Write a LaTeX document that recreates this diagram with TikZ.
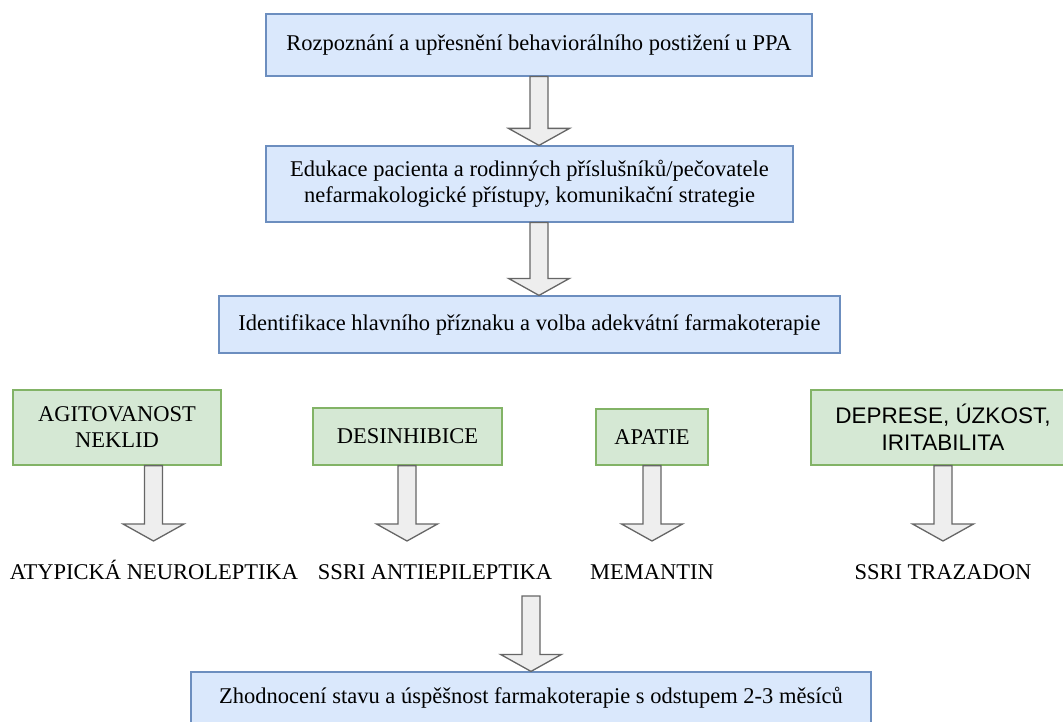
\documentclass[tikz,border=0pt]{standalone}
\usepackage{fontspec}
\setmainfont{Liberation Serif}
\newfontfamily\sansf{Liberation Sans}
\usetikzlibrary{calc}
\definecolor{bluefill}{HTML}{DAE8FC}
\definecolor{bluedraw}{HTML}{6C8EBF}
\definecolor{greenfill}{HTML}{D5E8D4}
\definecolor{greendraw}{HTML}{82B366}
\definecolor{arrfill}{HTML}{EEEEEE}
\definecolor{arrdraw}{HTML}{666666}
\newcommand\fatarrow[2]{%
  \draw[fatarr] let \p1=(#1), \p2=(#2) in
    (\x1-9pt,\y1) -- (\x1+9pt,\y1) -- (\x1+9pt,\y2+17pt) -- (\x1+30.5pt,\y2+17pt)
    -- (\x1,\y2) -- (\x1-30.5pt,\y2+17pt) -- (\x1-9pt,\y2+17pt) -- cycle;}
\begin{document}
\begin{tikzpicture}[x=1pt,y=-1pt,
  txt/.style={font=\fontsize{22.5}{26}\selectfont},
  bluebox/.style={txt, draw=bluedraw, fill=bluefill, line width=1.2pt, align=center, inner sep=0pt},
  greenbox/.style={txt, draw=greendraw, fill=greenfill, line width=1.2pt, align=center, inner sep=0pt},
  lbl/.style={txt, inner sep=0pt, anchor=base},
  fatarr/.style={draw=arrdraw, fill=arrfill, line width=1.3pt, line join=miter}]
\clip (0,0) rectangle (1063,722);
\useasboundingbox (0,0) rectangle (1063,722);

\node[bluebox, minimum width=546pt, minimum height=62pt] (b1) at (539,45)
  {Rozpoznání a upřesnění behaviorálního postižení u PPA};
\node[bluebox, minimum width=527pt, minimum height=76pt] (b2) at (529.5,184)
  {Edukace pacienta a rodinných příslušníků/pečovatele\\nefarmakologické přístupy, komunikační strategie};
\node[bluebox, minimum width=621pt, minimum height=57pt] (b3) at (529.5,324.5)
  {Identifikace hlavního příznaku a volba adekvátní farmakoterapie};

\node[greenbox, minimum width=208pt, minimum height=75pt] (g1) at (117,427.5)
  {AGITOVANOST\\NEKLID};
\node[greenbox, minimum width=189pt, minimum height=57pt] (g2) at (407.5,436.5)
  {DESINHIBICE};
\node[greenbox, minimum width=112pt, minimum height=56pt] (g3) at (652,437)
  {APATIE};
\node[greenbox, font=\sansf\fontsize{22.5}{27}\selectfont, minimum width=264pt, minimum height=75pt] (g4) at (943,427.5)
  {DEPRESE, ÚZKOST,\\IRITABILITA};

\node[lbl] (l1) at (154,579) {ATYPICKÁ NEUROLEPTIKA};
\node[lbl] (l2) at (435,579) {SSRI ANTIEPILEPTIKA};
\node[lbl] (l3) at (652,579) {MEMANTIN};
\node[lbl] (l4) at (943,579) {SSRI TRAZADON};

\node[bluebox, minimum width=680pt, minimum height=52pt] (b5) at (531,698)
  {Zhodnocení stavu a úspěšnost farmakoterapie s odstupem 2-3 měsíců};

\coordinate (a1) at (153.5,541);
\coordinate (a2) at (407,541);
\coordinate (a3) at (652,541);
\coordinate (a4) at (943,541);
\coordinate (s5) at (531,596);
\coordinate (t0) at (539,0);

\fatarrow{b1.south}{t0 |- b2.north}
\fatarrow{t0 |- b2.south}{t0 |- b3.north}
\fatarrow{a1 |- g1.south}{a1}
\fatarrow{a2 |- g2.south}{a2}
\fatarrow{a3 |- g3.south}{a3}
\fatarrow{a4 |- g4.south}{a4}
\fatarrow{s5}{s5 |- b5.north}
\end{tikzpicture}
\end{document}
